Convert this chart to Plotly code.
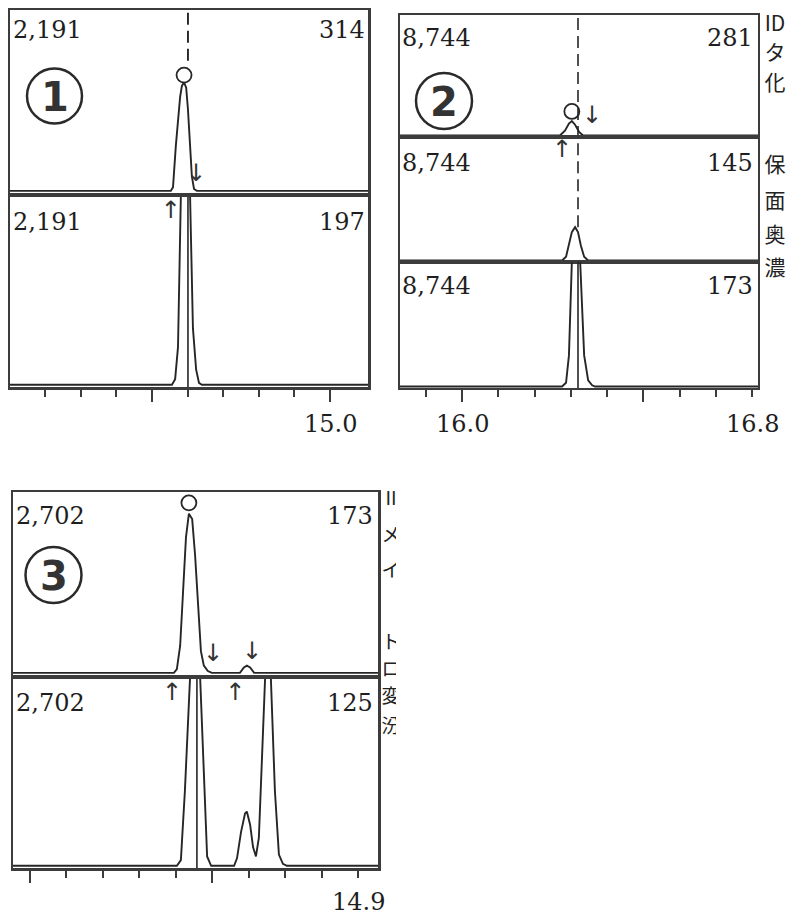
import plotly.graph_objects as go

W, H = 787, 918

# ------------------------------------------------------------------ data
# channel labels: left = full-scale intensity, right = monitored m/z
p1_scale = ["2,191", "2,191"]
p1_mz = ["314", "197"]
p2_scale = ["8,744", "8,744", "8,744"]
p2_mz = ["281", "145", "173"]
p3_scale = ["2,702", "2,702"]
p3_mz = ["173", "125"]
panel_ids = ["1", "2", "3"]

# chromatogram traces: retention time (min), intensity (% of channel full scale)
p1a_t = [14.10, 14.553, 14.559, 14.567, 14.579, 14.584, 14.590, 14.596, 14.601, 14.607, 14.612, 14.618, 14.626, 15.11]
p1a_y = [0, 0, 2, 25, 52, 58, 60, 57, 45, 25, 8, 1, 0, 0]
p1b_t = [14.10, 14.556, 14.565, 14.573, 14.581, 14.593, 14.607, 14.615, 14.624, 14.632, 14.640, 15.11]
p1b_y = [0, 0, 3, 20, 100, 150, 100, 30, 8, 1, 0, 0]

p2a_t = [15.82, 16.270, 16.284, 16.295, 16.303, 16.312, 16.323, 16.334, 16.82]
p2a_y = [0, 0, 4, 10, 12, 9, 3, 0, 0]
p2b_t = [15.82, 16.276, 16.287, 16.295, 16.303, 16.312, 16.320, 16.328, 16.337, 16.348, 16.82]
p2b_y = [0, 0, 3, 12, 23, 27, 23, 12, 3, 0, 0]
p2c_t = [15.82, 16.276, 16.287, 16.295, 16.303, 16.314, 16.326, 16.337, 16.348, 16.359, 16.367, 16.82]
p2c_y = [0, 0, 3, 25, 100, 150, 100, 25, 5, 1, 0, 0]

p3a_t = [13.95, 14.395, 14.403, 14.412, 14.420, 14.428, 14.436, 14.445, 14.453, 14.461, 14.469, 14.477,
         14.488, 14.499, 14.576, 14.587, 14.595, 14.604, 14.615, 14.96]
p3a_y = [0, 0, 2, 15, 45, 75, 88, 85, 65, 35, 12, 4, 1, 0, 0, 3, 4, 3, 0, 0]
p3b_t = [13.95, 14.403, 14.414, 14.425, 14.439, 14.453, 14.467, 14.478, 14.486, 14.497,
         14.560, 14.568, 14.579, 14.590, 14.595, 14.604, 14.612, 14.620, 14.628, 14.637, 14.645,
         14.653, 14.661, 14.672, 14.683, 14.694, 14.705, 14.96]
p3b_y = [0, 0, 3, 40, 100, 140, 100, 40, 5, 0,
         0, 4, 18, 28, 29, 22, 10, 5, 15, 60, 100, 140, 100, 40, 6, 1, 0, 0]

# retention-time marker lines (min)
p1_rt = 14.601
p2_rt = 16.320
p3_rt = 14.458

# apex circles: (time, intensity %)
p1_apex = (14.590, 64)
p2_apex = (16.303, 20)
p3_apex = (14.436, 94)

# integration start (↑) / end (↓) marks: time, intensity %
p1_start = (14.553, 92)
p1_end = (14.624, 9)
p2_start = (16.276, 89)
p2_end = (16.359, 15)
p3_start = [(14.390, 92), (14.563, 92)]
p3_end = [(14.502, 10), (14.609, 11)]

# axis ticks
p1_ticks_minor = [14.2, 14.3, 14.4, 14.6, 14.7, 14.8, 14.9]
p1_ticks_major = [14.5, 15.0]
p1_tick_labels = {15.0: "15.0"}
p2_ticks_minor = [15.9, 16.1, 16.2, 16.3, 16.4, 16.6, 16.7, 16.8]
p2_ticks_major = [16.0, 16.5]
p2_tick_labels = {16.0: "16.0", 16.8: "16.8"}
p3_ticks_minor = [14.1, 14.2, 14.3, 14.4, 14.6, 14.7, 14.8, 14.9]
p3_ticks_major = [14.0, 14.5]
p3_tick_labels = {14.9: "14.9"}

# cut-off side captions
p2_side = ["ID", "タ", "化", "保", "面", "奥", "濃"]
p3_side = ["II", "メ", "イ", "ト", "ロ", "変", "汾"]

# ------------------------------------------------------------------ layout helpers
INK = "#262626"
FRAME = "#3c3c3c"
NUMFONT = dict(family="DejaVu Serif", size=24, color="#1e1e1e")

p1_range = [14.5 - 142 / 356, 15.0 + 38 / 356]
p2_range = [16.0 - 62 / 362.5, 16.8 + 6 / 362.5]
p3_range = [14.0 - 17 / 364.4, 14.9 + 20 / 364.4]

# subplot boxes in pixels: x0, x1, y0(top), y1(bottom)
boxes = {
    1: (10, 368, 10, 193),
    2: (10, 368, 197, 387),
    3: (400, 758, 15, 137),
    4: (400, 758, 137, 262),
    5: (400, 758, 262, 388),
    6: (13, 378, 492, 675),
    7: (13, 378, 679, 868),
}
xr = {1: p1_range, 2: p1_range, 3: p2_range, 4: p2_range, 5: p2_range, 6: p3_range, 7: p3_range}
ticked = {2: (p1_ticks_major, p1_ticks_minor), 5: (p2_ticks_major, p2_ticks_minor),
          7: (p3_ticks_major, p3_ticks_minor)}


def px(x):
    return x / W


def py(y):
    return 1 - y / H


layout = dict(width=W, height=H, autosize=False, margin=dict(l=0, r=0, t=0, b=0),
              paper_bgcolor="white", plot_bgcolor="white", showlegend=False)

for i, (x0, x1, y0, y1) in boxes.items():
    lw = 2.5 if i in (1, 2, 6, 7) else 2.0
    xa = dict(domain=[px(x0), px(x1)], range=xr[i], anchor=f"y{i}", showline=True, mirror=True,
              linecolor=FRAME, linewidth=lw, showgrid=False, zeroline=False,
              showticklabels=False, ticks="", fixedrange=True)
    if i in ticked:
        major, minor = ticked[i]
        xa.update(ticks="outside", tickmode="array", tickvals=major, ticklen=12, tickwidth=2,
                  tickcolor=FRAME,
                  minor=dict(tickmode="array", tickvals=minor, ticks="outside", ticklen=7,
                             tickwidth=2, tickcolor=FRAME))
    ya = dict(domain=[py(y1), py(y0)], range=[-1.2, 100], anchor=f"x{i}", showline=True,
              mirror=True, linecolor=FRAME, linewidth=lw, showgrid=False, zeroline=False,
              showticklabels=False, ticks="", fixedrange=True)
    layout["xaxis" if i == 1 else f"xaxis{i}"] = xa
    layout["yaxis" if i == 1 else f"yaxis{i}"] = ya

# side caption axes (for clipping the cut characters)
layout["xaxis8"] = dict(domain=[px(379), px(396)], range=[379, 396], anchor="y8", visible=False,
                        fixedrange=True)
layout["yaxis8"] = dict(domain=[py(760), py(480)], range=[760, 480], anchor="x8", visible=False,
                        fixedrange=True)
layout["xaxis9"] = dict(domain=[px(759), 1.0], range=[759, 787], anchor="y9", visible=False,
                        fixedrange=True)
layout["yaxis9"] = dict(domain=[py(300), py(5)], range=[300, 5], anchor="x9", visible=False,
                        fixedrange=True)

fig = go.Figure(layout=layout)


def ax(i):
    return ("x" if i == 1 else f"x{i}"), ("y" if i == 1 else f"y{i}")


def add_line(i, t, y, dash="solid", width=1.9):
    xa, ya = ax(i)
    fig.add_trace(go.Scatter(x=t, y=y, mode="lines", xaxis=xa, yaxis=ya, hoverinfo="skip",
                             line=dict(color=INK, width=width, dash=dash)))


def add_marks(i, pts, glyph):
    xa, ya = ax(i)
    fig.add_trace(go.Scatter(x=[p[0] for p in pts], y=[p[1] for p in pts], mode="text",
                             text=[glyph] * len(pts), xaxis=xa, yaxis=ya, cliponaxis=False,
                             textfont=dict(family="DejaVu Sans", size=24, color="#333"),
                             hoverinfo="skip"))


def add_apex(i, p):
    xa, ya = ax(i)
    fig.add_trace(go.Scatter(x=[p[0]], y=[p[1]], mode="markers", xaxis=xa, yaxis=ya,
                             cliponaxis=False, hoverinfo="skip",
                             marker=dict(symbol="circle-open", size=15, color=INK,
                                         line=dict(color=INK, width=1.8))))


DASH = "12px,6px"
# panel 1
add_line(1, p1a_t, p1a_y)
add_line(2, p1b_t, p1b_y)
add_line(1, [p1_rt, p1_rt], [72, 101], dash=DASH)
add_line(2, [p1_rt, p1_rt], [-2, 101], width=1.6)
add_apex(1, p1_apex)
add_marks(2, [p1_start], "↑")
add_marks(1, [p1_end], "↓")
# panel 2
add_line(3, p2a_t, p2a_y)
add_line(4, p2b_t, p2b_y)
add_line(5, p2c_t, p2c_y)
add_line(3, [p2_rt, p2_rt], [-2, 101], dash=DASH, width=1.6)
add_line(4, [p2_rt, p2_rt], [27, 101], dash=DASH, width=1.6)
add_line(5, [p2_rt, p2_rt], [-2, 101], width=1.6)
add_apex(3, p2_apex)
add_marks(4, [p2_start], "↑")
add_marks(3, [p2_end], "↓")
# panel 3
add_line(6, p3a_t, p3a_y)
add_line(7, p3b_t, p3b_y)
add_line(7, [p3_rt, p3_rt], [-2, 101], width=1.6)
add_apex(6, p3_apex)
add_marks(7, p3_start, "↑")
add_marks(6, p3_end, "↓")

# side captions (cut off at the right)
p3_side_y = [500, 537, 572, 644, 671, 698, 728]
fig.add_trace(go.Scatter(x=[391] * len(p3_side), y=p3_side_y, text=p3_side, mode="text",
                         xaxis="x8", yaxis="y8", cliponaxis=True, hoverinfo="skip",
                         textfont=dict(family="Noto Sans CJK JP", size=19, color="#222")))
p2_side_y = [26, 55, 85, 167, 203, 237, 270]
fig.add_trace(go.Scatter(x=[775] * len(p2_side), y=p2_side_y, text=p2_side, mode="text",
                         xaxis="x9", yaxis="y9", cliponaxis=True, hoverinfo="skip",
                         textfont=dict(family="Noto Sans CJK JP", size=21, color="#222")))

# ------------------------------------------------------------------ text
ann = []


def label(text, x, y, anchor):
    ann.append(dict(text=text, x=px(x), y=py(y), xref="paper", yref="paper", xanchor=anchor,
                    yanchor="middle", showarrow=False, font=NUMFONT))


# channel labels
for txt, mz, y in zip(p1_scale, p1_mz, [30, 222]):
    label(txt, 11, y, "left")
    label(mz, 367, y, "right")
for txt, mz, y in zip(p2_scale, p2_mz, [38, 163, 286]):
    label(txt, 400, y, "left")
    label(mz, 755, y, "right")
for txt, mz, y in zip(p3_scale, p3_mz, [516, 703]):
    label(txt, 14, y, "left")
    label(mz, 375, y, "right")

# tick labels
for axn, labels, y in [("x2", p1_tick_labels, 424), ("x5", p2_tick_labels, 424),
                       ("x7", p3_tick_labels, 902)]:
    for v, t in labels.items():
        ann.append(dict(text=t, x=v, y=py(y), xref=axn, yref="paper", xanchor="center",
                        yanchor="middle", showarrow=False, font=NUMFONT))

# circled panel numbers
shapes = []
for pid, (cx, cy, r) in zip(panel_ids, [(54.5, 96, 27.5), (444, 101, 28), (53.5, 575, 28)]):
    shapes.append(dict(type="circle", xref="paper", yref="paper", x0=px(cx - r), x1=px(cx + r),
                       y0=py(cy + r), y1=py(cy - r), line=dict(color="#2a2a2a", width=2.5)))
    ann.append(dict(text=pid, x=px(cx), y=py(cy + 1), xref="paper", yref="paper",
                    xanchor="center", yanchor="middle", showarrow=False,
                    font=dict(family="DejaVu Sans", size=40, color="#333", weight="bold")))

# thick grey dividers in panels 1 and 3
for (x0, x1, yy) in [(10, 368, 195), (13, 378, 677)]:
    shapes.append(dict(type="line", xref="paper", yref="paper", x0=px(x0), x1=px(x1),
                       y0=py(yy), y1=py(yy), layer="below", line=dict(color="#9a9a9a", width=4)))

fig.update_layout(annotations=ann, shapes=shapes)
fig.write_html("out.html", config={"displayModeBar": False, "staticPlot": True},
               post_script="document.body.style.margin='0';document.body.style.overflow='hidden';")
